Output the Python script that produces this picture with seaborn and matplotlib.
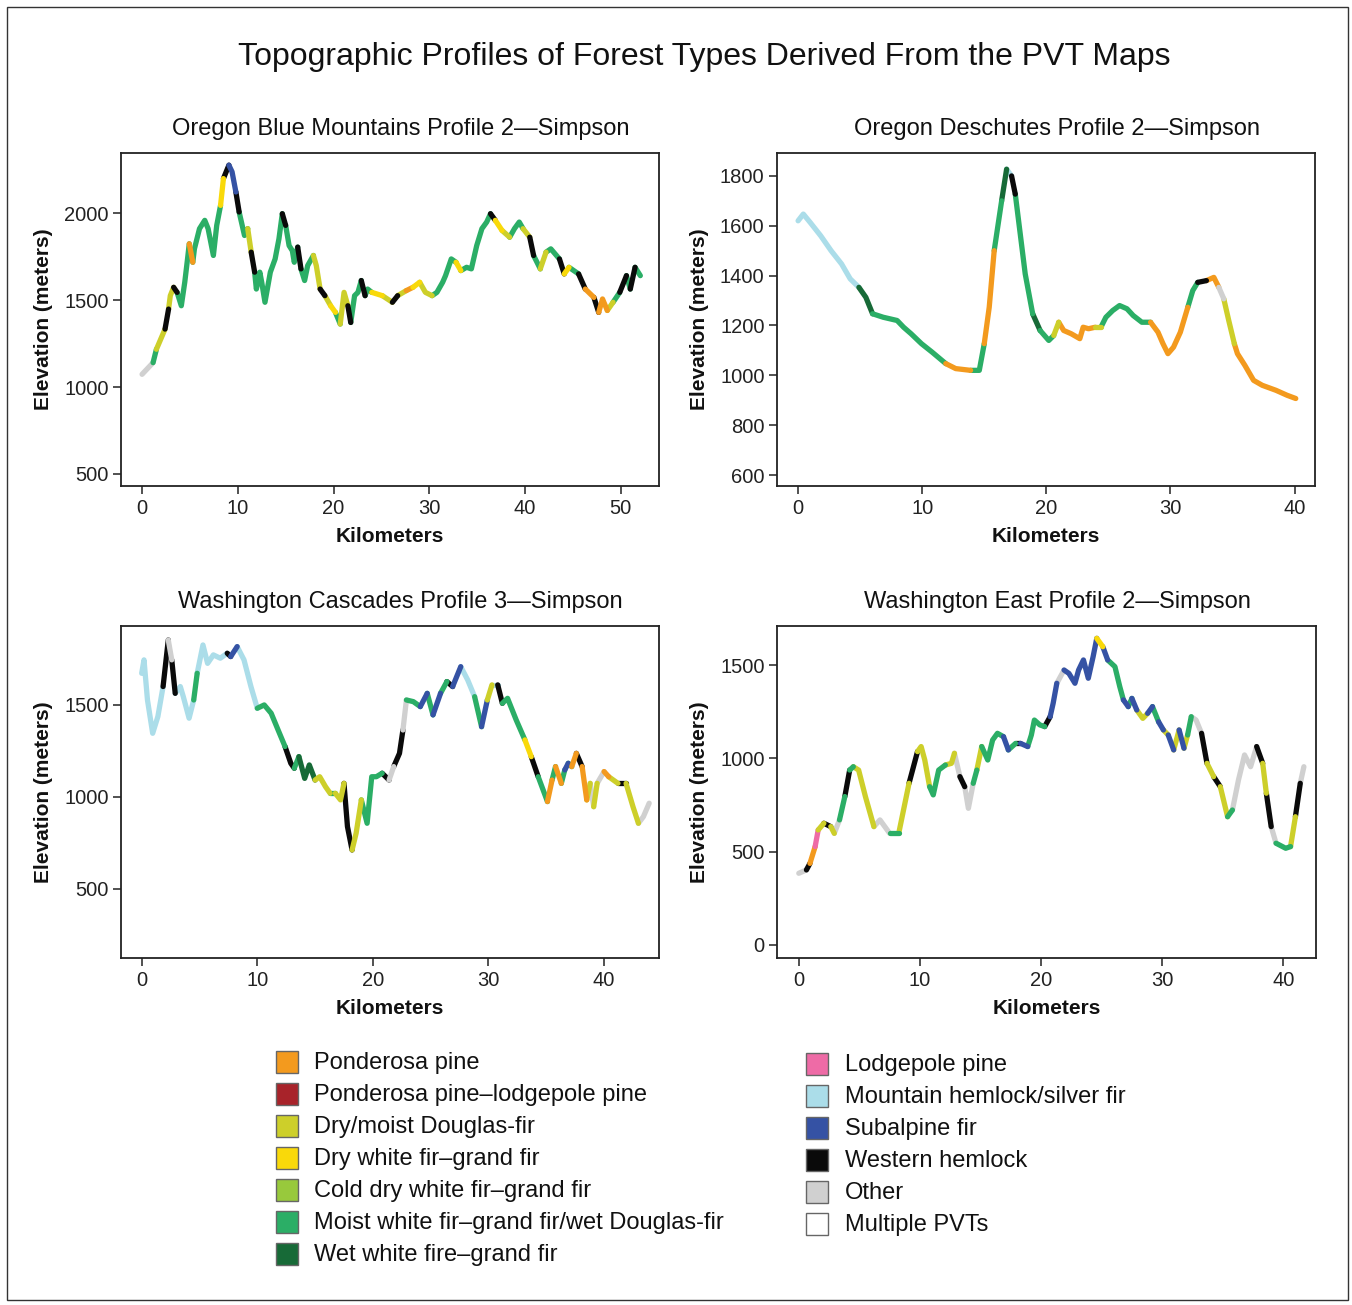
import numpy as np
import pandas as pd
import matplotlib
matplotlib.use("Agg")
import matplotlib.pyplot as plt
from matplotlib.patches import Rectangle
import seaborn as sns

sns.set_theme(style="ticks")
plt.rcParams['font.family'] = ['Liberation Sans', 'DejaVu Sans']

# ---------------- data ----------------
# Oregon Blue Mountains Profile 2
p1_km = [0, 1.15, 1.5, 2.4, 2.77, 2.95, 3.3, 3.66, 4.1, 4.46, 4.75, 4.93, 5.3, 5.47, 6.0, 6.55, 6.9, 7.45, 7.8, 8.2,
         8.5, 9.07, 9.4, 9.8, 10.14, 10.7, 11.04, 11.4, 11.76, 11.94, 12.3, 12.5, 12.84, 13.4, 13.9, 14.3, 14.65, 15.0, 15.36, 15.7,
         15.9, 16.26, 16.6, 16.98, 17.3, 17.9, 18.2, 18.6, 19.1, 19.7, 20.2, 20.7, 21.1, 21.5, 21.8, 22.2, 22.55, 22.9, 23.3, 23.56,
         24.0, 25.1, 26.15, 26.7, 27.6, 28.3, 29.0, 29.6, 30.3, 30.8, 31.4, 31.7, 32.3, 32.8, 33.3, 33.9, 34.4, 34.96, 35.5, 36.0,
         36.4, 36.9, 37.6, 38.4, 38.9, 39.4, 39.8, 40.5, 40.9, 41.6, 42.2, 42.7, 43.6, 44.1, 44.6, 45.6, 46.3, 47.2, 47.7, 48.1,
         48.6, 49.2, 49.9, 50.6, 51.0, 51.5, 52.05]
p1_elev = [1073, 1140, 1217, 1333, 1448, 1525, 1573, 1544, 1467, 1602, 1736, 1823, 1717, 1794, 1910, 1958, 1910, 1756, 1929, 2044,
           2198, 2275, 2237, 2121, 2006, 1871, 1910, 1775, 1660, 1563, 1660, 1602, 1487, 1660, 1736, 1852, 1996, 1929, 1813, 1783,
           1717, 1804, 1679, 1612, 1698, 1756, 1698, 1563, 1525, 1467, 1429, 1362, 1544, 1467, 1371, 1525, 1544, 1612, 1525, 1563,
           1544, 1525, 1487, 1525, 1554, 1573, 1602, 1544, 1525, 1544, 1602, 1640, 1736, 1717, 1669, 1688, 1679, 1813, 1910, 1948,
           1996, 1958, 1900, 1861, 1910, 1948, 1910, 1861, 1756, 1679, 1775, 1794, 1736, 1650, 1688, 1650, 1563, 1515, 1429, 1506,
           1440, 1487, 1544, 1640, 1563, 1688, 1640]
p1_type = ['O', 'M', 'DM', 'WH', 'DM', 'DM', 'WH', 'M', 'M', 'M', 'M', 'PP', 'M', 'M', 'M', 'M', 'M', 'M', 'M', 'DW',
           'WH', 'SAF', 'SAF', 'WH', 'M', 'M', 'DM', 'WH', 'M', 'M', 'M', 'M', 'M', 'M', 'M', 'M', 'WH', 'M', 'M', 'M',
           'M', 'WH', 'M', 'M', 'M', 'DM', 'DM', 'WH', 'DM', 'DW', 'M', 'DM', 'DM', 'WH', 'M', 'M', 'M', 'WH', 'M', 'M',
           'DW', 'DM', 'WH', 'DM', 'PP', 'DW', 'DM', 'DM', 'M', 'M', 'M', 'M', 'M', 'DW', 'M', 'M', 'M', 'M', 'M', 'M',
           'WH', 'DW', 'DM', 'M', 'M', 'M', 'DM', 'WH', 'M', 'DM', 'M', 'M', 'WH', 'DW', 'M', 'WH', 'PP', 'WH', 'PP', 'PP',
           'DM', 'M', 'WH', 'M', 'WH', 'M']

# Oregon Deschutes Profile 2
p2_km = [0, 0.42, 0.98, 1.82, 2.66, 3.5, 4.2, 4.9, 5.46, 6.0, 6.86, 7.98, 8.5, 9.1, 9.94, 10.8, 11.9, 12.7, 13.9, 14.6,
         15.0, 15.4, 15.8, 16.4, 16.8, 17.2, 17.5, 17.9, 18.3, 18.9, 19.5, 20.2, 20.6, 21.0, 21.4, 22.0, 22.7, 22.97, 23.4, 23.95,
         24.4, 24.8, 25.35, 25.9, 26.5, 27.0, 27.7, 28.4, 29.0, 29.4, 29.8, 30.25, 30.8, 31.4, 31.8, 32.2, 32.9, 33.5, 33.9, 34.3,
         34.7, 35.15, 35.4, 36.0, 36.7, 37.4, 38.5, 39.4, 40.1]
p2_elev = [1620, 1647, 1613, 1560, 1500, 1447, 1387, 1353, 1313, 1247, 1233, 1220, 1193, 1167, 1127, 1093, 1047, 1027, 1020, 1020,
           1127, 1273, 1500, 1700, 1827, 1800, 1727, 1567, 1407, 1247, 1180, 1140, 1160, 1213, 1180, 1167, 1147, 1193, 1187, 1193,
           1193, 1233, 1260, 1280, 1267, 1240, 1213, 1213, 1173, 1127, 1087, 1113, 1173, 1273, 1340, 1373, 1380, 1393, 1353, 1307,
           1220, 1127, 1087, 1040, 980, 960, 940, 920, 907]
p2_type = ['MH', 'MH', 'MH', 'MH', 'MH', 'MH', 'MH', 'WW', 'WW', 'M', 'M', 'M', 'M', 'M', 'M', 'M', 'PP', 'PP', 'M', 'M',
           'PP', 'PP', 'M', 'WW', 'MH', 'WH', 'M', 'M', 'M', 'WW', 'M', 'M', 'DM', 'PP', 'PP', 'PP', 'PP', 'PP', 'PP', 'DM',
           'M', 'M', 'M', 'M', 'M', 'M', 'M', 'PP', 'PP', 'PP', 'PP', 'PP', 'PP', 'M', 'M', 'WH', 'PP', 'PP', 'O', 'DM',
           'DM', 'PP', 'PP', 'PP', 'PP', 'PP', 'PP', 'PP']

# Washington Cascades Profile 3
p3_km = [0, 0.2, 0.5, 0.95, 1.4, 1.85, 2.3, 2.6, 2.9, 3.34, 3.6, 4.1, 4.5, 4.8, 5.3, 5.7, 6.2, 6.8, 7.4, 7.7,
         8.26, 8.85, 9.45, 10.0, 10.6, 11.2, 11.8, 12.4, 12.9, 13.2, 13.6, 14.1, 14.5, 15.0, 15.4, 15.9, 16.3, 16.75, 17.2, 17.5,
         17.8, 18.2, 18.55, 19.0, 19.5, 19.9, 20.3, 20.8, 21.4, 21.8, 22.3, 22.6, 22.9, 23.5, 24.1, 24.7, 25.2, 25.85, 26.4, 26.9,
         27.6, 28.2, 28.8, 29.4, 29.9, 30.3, 30.8, 31.2, 31.65, 32.4, 33.15, 33.7, 34.3, 35.1, 35.5, 35.8, 36.3, 36.6, 36.9, 37.2,
         37.6, 38.1, 38.5, 38.8, 39.1, 39.4, 40.0, 40.4, 41.2, 41.9, 42.5, 42.97, 43.4, 43.9]
p3_elev = [1672, 1745, 1527, 1346, 1437, 1600, 1853, 1745, 1563, 1600, 1545, 1428, 1527, 1672, 1826, 1726, 1772, 1754, 1781, 1763,
           1817, 1745, 1600, 1482, 1500, 1455, 1364, 1274, 1183, 1156, 1219, 1101, 1174, 1092, 1110, 1056, 1020, 1020, 984, 1074,
           839, 712, 803, 984, 857, 1110, 1110, 1129, 1092, 1165, 1237, 1364, 1527, 1518, 1491, 1563, 1446, 1563, 1627, 1600,
           1708, 1636, 1545, 1382, 1527, 1609, 1609, 1509, 1536, 1418, 1310, 1219, 1110, 975, 1092, 1165, 1074, 1147, 1183, 1165,
           1237, 1165, 984, 1074, 947, 1074, 1138, 1110, 1074, 1074, 947, 857, 893, 966]
p3_type = ['MH', 'MH', 'MH', 'MH', 'MH', 'WH', 'O', 'WH', 'MH', 'MH', 'MH', 'MH', 'M', 'MH', 'MH', 'MH', 'MH', 'MH', 'WH', 'SAF',
           'MH', 'MH', 'MH', 'M', 'M', 'M', 'M', 'WH', 'WH', 'M', 'WW', 'WW', 'WW', 'DM', 'DM', 'DM', 'M', 'DM', 'DM', 'WH',
           'WH', 'DM', 'DM', 'M', 'M', 'M', 'M', 'WH', 'O', 'WH', 'WH', 'O', 'M', 'M', 'SAF', 'M', 'SAF', 'M', 'WH', 'SAF',
           'MH', 'MH', 'M', 'SAF', 'DM', 'MH', 'WH', 'M', 'M', 'M', 'DW', 'WH', 'M', 'PP', 'M', 'PP', 'M', 'SAF', 'M', 'PP',
           'WH', 'PP', 'DM', 'O', 'DM', 'O', 'PP', 'DM', 'WH', 'DM', 'DM', 'O', 'O']

# Washington East Profile 2
p4_km = [0, 0.63, 0.92, 1.35, 1.6, 2.07, 2.64, 2.93, 3.36, 3.8, 4.2, 4.5, 4.94, 5.5, 6.2, 6.7, 7.5, 8.25, 9.1, 9.8,
         10.1, 10.4, 10.8, 11.1, 11.55, 12.1, 12.6, 12.85, 13.3, 13.7, 14.0, 14.4, 14.7, 15.1, 15.6, 16.0, 16.4, 16.9, 17.3, 17.9,
         18.3, 18.9, 19.2, 19.45, 19.9, 20.3, 20.75, 21.0, 21.3, 21.9, 22.3, 22.8, 23.1, 23.5, 23.9, 24.3, 24.6, 25.1, 25.5, 26.1,
         26.5, 26.8, 27.2, 27.5, 27.9, 28.4, 28.8, 29.2, 29.7, 30.1, 30.5, 30.95, 31.4, 31.8, 32.1, 32.4, 32.8, 33.25, 33.7, 34.25,
         34.8, 35.4, 35.8, 36.3, 36.8, 37.3, 37.8, 38.3, 38.6, 39.0, 39.4, 40.2, 40.6, 41.0, 41.4, 41.7]
p4_elev = [384, 402, 437, 527, 616, 652, 634, 598, 670, 795, 937, 955, 937, 795, 634, 670, 598, 598, 866, 1036,
           1063, 991, 848, 804, 937, 964, 973, 1027, 902, 848, 732, 866, 937, 1063, 991, 1098, 1134, 1116, 1045, 1080,
           1080, 1063, 1125, 1205, 1179, 1170, 1223, 1295, 1402, 1473, 1455, 1402, 1473, 1527, 1429, 1545, 1643, 1598, 1527, 1491,
           1384, 1313, 1277, 1321, 1259, 1214, 1241, 1277, 1196, 1152, 1125, 1045, 1152, 1054, 1125, 1223, 1205, 1134, 973, 902,
           848, 687, 723, 884, 1018, 955, 1063, 973, 813, 634, 545, 518, 527, 687, 866, 955]
p4_type = ['O', 'WH', 'PP', 'LP', 'DM', 'WH', 'DM', 'O', 'M', 'WH', 'M', 'DM', 'DM', 'DM', 'O', 'O', 'M', 'DM', 'WH', 'DM',
           'DM', 'DM', 'M', 'M', 'M', 'DM', 'DM', 'O', 'WH', 'O', 'O', 'M', 'DM', 'M', 'M', 'M', 'M', 'SAF', 'M', 'WH',
           'SAF', 'M', 'M', 'M', 'M', 'WH', 'SAF', 'SAF', 'O', 'SAF', 'SAF', 'SAF', 'SAF', 'SAF', 'SAF', 'SAF', 'DW', 'SAF', 'M', 'M',
           'M', 'SAF', 'M', 'SAF', 'DM', 'DM', 'SAF', 'M', 'SAF', 'DM', 'SAF', 'DM', 'SAF', 'DM', 'M', 'O', 'O', 'WH', 'DM', 'WH',
           'DM', 'M', 'O', 'O', 'O', 'O', 'WH', 'DM', 'WH', 'O', 'M', 'M', 'DM', 'WH', 'O']

legend_codes = ['PP', 'PPLP', 'DM', 'DW', 'CD', 'M', 'WW', 'LP', 'MH', 'SAF', 'WH', 'O', 'MULTI']
legend_labels = ['Ponderosa pine', 'Ponderosa pine\u2013lodgepole pine', 'Dry/moist Douglas-fir',
                 'Dry white fir\u2013grand fir', 'Cold dry white fir\u2013grand fir',
                 'Moist white fir\u2013grand fir/wet Douglas-fir', 'Wet white fire\u2013grand fir',
                 'Lodgepole pine', 'Mountain hemlock/silver fir', 'Subalpine fir', 'Western hemlock',
                 'Other', 'Multiple PVTs']
legend_colors = ['#F39A1E', '#A8232A', '#CDCF2A', '#F9D90A', '#98C93C', '#2BAE66', '#176A37',
                 '#EE6BA6', '#ABDDE9', '#3552A4', '#0A0A0A', '#D0D0D0', '#FFFFFF']
PALETTE = dict(zip(legend_codes, legend_colors))

panels = [
    dict(title='Oregon Blue Mountains Profile 2\u2014Simpson', km=p1_km, elev=p1_elev, types=p1_type,
         xlim=(-2.2, 54.0), ylim=(431, 2345), xticks=[0, 10, 20, 30, 40, 50], yticks=[500, 1000, 1500, 2000],
         rect=(121, 153, 659, 486)),
    dict(title='Oregon Deschutes Profile 2\u2014Simpson', km=p2_km, elev=p2_elev, types=p2_type,
         xlim=(-1.7, 41.65), ylim=(556, 1892), xticks=[0, 10, 20, 30, 40], yticks=[600, 800, 1000, 1200, 1400, 1600, 1800],
         rect=(777, 153, 1315, 486)),
    dict(title='Washington Cascades Profile 3\u2014Simpson', km=p3_km, elev=p3_elev, types=p3_type,
         xlim=(-1.79, 44.75), ylim=(125, 1929), xticks=[0, 10, 20, 30, 40], yticks=[500, 1000, 1500],
         rect=(121, 626, 659, 958)),
    dict(title='Washington East Profile 2\u2014Simpson', km=p4_km, elev=p4_elev, types=p4_type,
         xlim=(-1.8, 42.7), ylim=(-70, 1709), xticks=[0, 10, 20, 30, 40], yticks=[0, 500, 1000, 1500],
         rect=(777, 626, 1316, 958)),
]

W, H = 1352, 1305
fig = plt.figure(figsize=(W / 100, H / 100), dpi=100)
fig.patch.set_facecolor('white')


def segments_frame(km, elev, types):
    n = len(km)
    types = list(types)[:n - 1]
    while len(types) < n - 1:
        types.append(types[-1])
    rows = []
    seg = 0
    i = 0
    while i < n - 1:
        t = types[i]
        j = i
        while j < n - 1 and types[j] == t:
            j += 1
        for k in range(i, j + 1):
            rows.append((km[k], elev[k], t, seg))
        seg += 1
        i = j
    return pd.DataFrame(rows, columns=['km', 'elev', 'type', 'seg'])


for p in panels:
    l, t, r, b = p['rect']
    ax = fig.add_axes([l / W, 1 - b / H, (r - l) / W, (b - t) / H])
    df = segments_frame(p['km'], p['elev'], p['types'])
    sns.lineplot(data=df, x='km', y='elev', hue='type', units='seg', estimator=None, sort=False,
                 palette=PALETTE, legend=False, linewidth=3.8, ax=ax,
                 solid_capstyle='round', solid_joinstyle='round')
    ax.set_xlim(*p['xlim'])
    ax.set_ylim(*p['ylim'])
    ax.set_xticks(p['xticks'])
    ax.set_yticks(p['yticks'])
    ax.tick_params(axis='both', labelsize=14.5, length=6, width=1.2, color='#333333',
                   labelcolor='#222222', pad=3)
    for s in ax.spines.values():
        s.set_color('#222222')
        s.set_linewidth(1.3)
    ax.set_xlabel('Kilometers', fontsize=15, fontweight='bold', labelpad=7, color='#111111')
    ax.set_ylabel('Elevation (meters)', fontsize=15, fontweight='bold', labelpad=8, color='#111111')
    ax.set_title(p['title'], fontsize=17, pad=13, color='#111111', x=0.52)
    ax.set_facecolor('white')

fig.text(704 / W, 1 - 57 / H, 'Topographic Profiles of Forest Types Derived From the PVT Maps',
         ha='center', va='center', fontsize=23, color='#111111')

# legend
for i in range(7):
    yc = 1062 + 32 * i
    fig.add_artist(Rectangle((276 / W, 1 - (yc + 11) / H), 22 / W, 22 / H, transform=fig.transFigure,
                             facecolor=legend_colors[i], edgecolor='#666666', linewidth=1))
    fig.text(314 / W, 1 - (yc + 1) / H, legend_labels[i], ha='left', va='center', fontsize=17, color='#111111')
for i in range(6):
    k = 7 + i
    yc = 1064 + 32 * i
    fig.add_artist(Rectangle((806 / W, 1 - (yc + 11) / H), 22 / W, 22 / H, transform=fig.transFigure,
                             facecolor=legend_colors[k], edgecolor='#666666', linewidth=1))
    fig.text(845 / W, 1 - (yc + 1) / H, legend_labels[k], ha='left', va='center', fontsize=17, color='#111111')

# outer frame
fig.add_artist(Rectangle((7 / W, 1 - 1300 / H), (1348 - 7) / W, (1300 - 7) / H, transform=fig.transFigure,
                         fill=False, edgecolor='#333333', linewidth=1))

fig.savefig('out.png', dpi=100, facecolor='white')
